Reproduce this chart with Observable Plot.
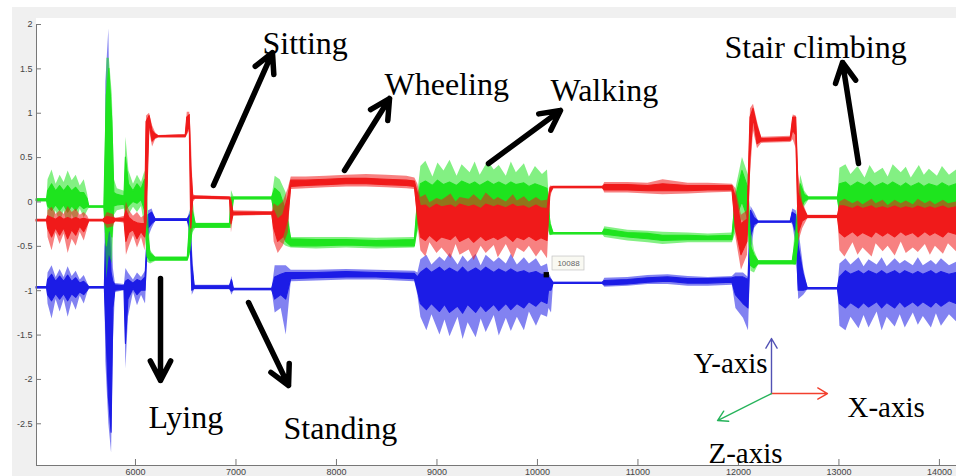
<!DOCTYPE html>
<html>
<head>
<meta charset="utf-8">
<script src="https://cdn.jsdelivr.net/npm/d3@7"></script>
<script src="https://cdn.jsdelivr.net/npm/@observablehq/plot@0.6"></script>
<style>
  body { margin: 0; }
  #wrap { position: relative; width: 956px; height: 476px; background: #fff; overflow: hidden; }
  #fig { position: absolute; left: 12px; top: 7px; right: 0; bottom: 0; background: #f0f0f0; }
  #axes { position: absolute; left: 36px; top: 18px; right: 0; height: 447px; background: #fff; }
  #chart { position: absolute; left: 0; top: 0; }
</style>
</head>
<body>
<div id="wrap"><div id="fig"></div><div id="axes"></div><div id="chart"></div></div>
<script>
// Sample index (x), and for each accelerometer axis: [x, envelopeLow, coreLow, coreHigh, envelopeHigh]
const xTicks = [6000, 7000, 8000, 9000, 10000, 11000, 12000, 13000, 14000];
const yTicks = [-2.5, -2, -1.5, -1, -0.5, 0, 0.5, 1, 1.5, 2];

const redX = [
  [5015, -0.22, -0.22, -0.20, -0.20],
  [5120, -0.22, -0.22, -0.20, -0.20],
  [5130, -0.40, -0.30, -0.16, -0.10],
  [5170, -0.55, -0.40, -0.18, -0.06],
  [5210, -0.35, -0.30, -0.20, -0.14],
  [5250, -0.48, -0.38, -0.17, -0.10],
  [5290, -0.36, -0.30, -0.20, -0.14],
  [5330, -0.58, -0.42, -0.18, -0.05],
  [5370, -0.42, -0.32, -0.20, -0.12],
  [5410, -0.50, -0.38, -0.18, -0.08],
  [5450, -0.34, -0.28, -0.20, -0.15],
  [5490, -0.44, -0.34, -0.19, -0.12],
  [5525, -0.30, -0.26, -0.20, -0.16],
  [5540, -0.22, -0.22, -0.20, -0.20],
  [5680, -0.22, -0.22, -0.20, -0.20],
  [5720, -0.30, -0.25, -0.17, -0.12],
  [5780, -0.28, -0.24, -0.18, -0.14],
  [5800, -0.22, -0.22, -0.19, -0.19],
  [5890, -0.24, -0.22, -0.19, -0.16],
  [5910, -0.60, -0.45, -0.10, 0.00],
  [5940, -0.50, -0.35, -0.18, -0.10],
  [5980, -0.38, -0.32, -0.22, -0.16],
  [6020, -0.52, -0.42, -0.24, -0.12],
  [6060, -0.40, -0.34, -0.25, -0.18],
  [6095, -0.55, -0.40, -0.25, -0.15],
  [6110, -0.30, -0.25, 0.90, 0.97],
  [6140, 0.80, 0.90, 0.97, 1.00],
  [6170, 0.62, 0.68, 0.80, 0.86],
  [6200, 0.70, 0.72, 0.76, 0.78],
  [6230, 0.72, 0.73, 0.74, 0.75],
  [6500, 0.72, 0.73, 0.75, 0.76],
  [6515, 0.75, 0.78, 0.95, 1.01],
  [6540, 0.80, 0.85, 0.98, 1.01],
  [6555, -0.40, -0.30, 0.40, 0.75],
  [6575, 0.00, 0.03, 0.06, 0.08],
  [6600, 0.03, 0.04, 0.06, 0.07],
  [6940, 0.02, 0.03, 0.05, 0.06],
  [6955, -0.35, -0.25, 0.00, 0.05],
  [6975, -0.16, -0.15, -0.12, -0.10],
  [7360, -0.15, -0.14, -0.12, -0.11],
  [7380, -0.45, -0.30, -0.10, -0.02],
  [7420, -0.58, -0.45, -0.20, -0.05],
  [7470, -0.50, -0.40, -0.15, 0.00],
  [7520, -0.35, -0.20, 0.05, 0.15],
  [7550, 0.14, 0.17, 0.24, 0.28],
  [7700, 0.15, 0.18, 0.24, 0.28],
  [7900, 0.16, 0.19, 0.25, 0.29],
  [8100, 0.17, 0.20, 0.26, 0.30],
  [8300, 0.17, 0.20, 0.26, 0.31],
  [8500, 0.16, 0.19, 0.25, 0.30],
  [8700, 0.15, 0.18, 0.24, 0.29],
  [8780, 0.14, 0.17, 0.23, 0.27],
  [8810, -0.25, -0.15, 0.10, 0.20],
  [8840, -0.55, -0.40, -0.05, 0.05],
  [8890, -0.62, -0.44, -0.04, 0.08],
  [8930, -0.46, -0.38, -0.08, -0.01],
  [9000, -0.58, -0.45, -0.03, 0.04],
  [9050, -0.52, -0.40, -0.06, 0.02],
  [9140, -0.64, -0.43, -0.04, 0.09],
  [9190, -0.48, -0.38, -0.07, 0.00],
  [9230, -0.60, -0.45, -0.03, 0.05],
  [9320, -0.54, -0.40, -0.06, 0.03],
  [9370, -0.66, -0.46, -0.04, 0.08],
  [9440, -0.50, -0.39, -0.08, 0.01],
  [9490, -0.58, -0.44, -0.03, 0.10],
  [9570, -0.49, -0.40, -0.06, 0.02],
  [9610, -0.63, -0.43, -0.04, 0.05],
  [9690, -0.48, -0.38, -0.07, 0.00],
  [9760, -0.64, -0.45, -0.03, 0.08],
  [9800, -0.52, -0.40, -0.06, 0.01],
  [9870, -0.57, -0.43, -0.05, 0.06],
  [9920, -0.50, -0.39, -0.08, 0.00],
  [9990, -0.62, -0.44, -0.04, 0.05],
  [10040, -0.54, -0.41, -0.07, 0.01],
  [10100, -0.64, -0.44, -0.08, 0.02],
  [10130, 0.05, 0.10, 0.16, 0.18],
  [10160, 0.15, 0.155, 0.17, 0.175],
  [10650, 0.15, 0.155, 0.17, 0.175],
  [10670, 0.10, 0.13, 0.19, 0.22],
  [10900, 0.10, 0.13, 0.19, 0.22],
  [11100, 0.09, 0.12, 0.18, 0.21],
  [11250, 0.08, 0.12, 0.20, 0.25],
  [11500, 0.09, 0.12, 0.18, 0.21],
  [11700, 0.10, 0.13, 0.18, 0.21],
  [11940, 0.11, 0.13, 0.18, 0.20],
  [11975, -0.40, -0.30, 0.05, 0.15],
  [12030, -0.77, -0.60, -0.25, -0.15],
  [12090, -0.60, -0.45, -0.20, -0.10],
  [12120, 0.30, 0.50, 0.95, 1.05],
  [12150, 0.80, 0.95, 1.05, 1.10],
  [12190, 0.60, 0.65, 0.85, 0.90],
  [12230, 0.66, 0.68, 0.71, 0.73],
  [12520, 0.67, 0.69, 0.72, 0.74],
  [12545, 0.70, 0.80, 0.95, 0.98],
  [12575, 0.60, 0.75, 0.95, 0.97],
  [12600, -0.45, -0.35, 0.10, 0.30],
  [12640, -0.30, -0.22, -0.05, 0.00],
  [12690, -0.19, -0.18, -0.16, -0.15],
  [12990, -0.19, -0.18, -0.16, -0.15],
  [13010, -0.55, -0.35, -0.05, 0.00],
  [13060, -0.62, -0.40, -0.05, 0.03],
  [13140, -0.46, -0.34, -0.08, -0.02],
  [13190, -0.60, -0.39, -0.05, 0.01],
  [13240, -0.52, -0.35, -0.08, -0.03],
  [13330, -0.62, -0.40, -0.05, 0.03],
  [13370, -0.47, -0.34, -0.08, -0.02],
  [13440, -0.56, -0.39, -0.06, 0.02],
  [13490, -0.50, -0.35, -0.08, -0.04],
  [13560, -0.61, -0.40, -0.05, 0.02],
  [13620, -0.45, -0.34, -0.08, -0.02],
  [13670, -0.58, -0.38, -0.06, 0.01],
  [13740, -0.52, -0.35, -0.08, -0.03],
  [13790, -0.57, -0.40, -0.05, 0.03],
  [13860, -0.48, -0.34, -0.08, -0.02],
  [13910, -0.60, -0.38, -0.06, 0.01],
  [13960, -0.50, -0.35, -0.08, -0.03],
  [14040, -0.59, -0.40, -0.05, 0.02],
  [14090, -0.47, -0.34, -0.08, -0.02],
  [14170, -0.56, -0.37, -0.06, 0.00]
];

const greenZ = [
  [5015, 0.00, 0.01, 0.03, 0.04],
  [5120, 0.00, 0.01, 0.03, 0.04],
  [5130, -0.15, -0.05, 0.12, 0.25],
  [5170, -0.30, -0.10, 0.20, 0.36],
  [5210, -0.10, -0.04, 0.12, 0.20],
  [5250, -0.24, -0.10, 0.18, 0.30],
  [5290, -0.10, -0.04, 0.12, 0.22],
  [5330, -0.32, -0.12, 0.18, 0.35],
  [5370, -0.14, -0.05, 0.12, 0.24],
  [5410, -0.25, -0.10, 0.16, 0.30],
  [5450, -0.08, -0.04, 0.10, 0.18],
  [5490, -0.18, -0.08, 0.10, 0.25],
  [5525, -0.10, -0.06, 0.03, 0.08],
  [5540, -0.07, -0.065, -0.05, -0.045],
  [5690, -0.07, -0.065, -0.05, -0.045],
  [5715, -0.87, -0.50, 1.20, 1.62],
  [5740, -0.60, -0.30, 1.50, 1.62],
  [5770, -0.70, -0.40, 0.90, 1.20],
  [5790, -0.15, -0.05, 0.10, 0.25],
  [5820, -0.10, -0.04, 0.08, 0.15],
  [5890, -0.08, -0.03, 0.06, 0.12],
  [5905, -0.30, -0.10, 0.50, 0.73],
  [5935, -0.15, -0.05, 0.20, 0.35],
  [5980, -0.06, 0.00, 0.12, 0.20],
  [6020, -0.12, -0.02, 0.20, 0.30],
  [6060, -0.05, 0.02, 0.14, 0.22],
  [6095, -0.30, -0.10, 0.25, 0.35],
  [6120, -0.68, -0.62, -0.30, 0.10],
  [6150, -0.70, -0.67, -0.58, -0.55],
  [6200, -0.67, -0.66, -0.63, -0.62],
  [6520, -0.67, -0.66, -0.63, -0.62],
  [6545, -0.60, -0.55, -0.20, -0.10],
  [6570, -0.35, -0.30, -0.10, 0.05],
  [6600, -0.30, -0.29, -0.25, -0.24],
  [6940, -0.30, -0.29, -0.25, -0.24],
  [6955, -0.30, -0.20, 0.05, 0.13],
  [6980, 0.02, 0.03, 0.05, 0.06],
  [7360, 0.02, 0.03, 0.05, 0.06],
  [7390, -0.30, -0.15, 0.15, 0.29],
  [7440, -0.45, -0.30, 0.10, 0.25],
  [7500, -0.50, -0.45, -0.10, 0.10],
  [7550, -0.52, -0.50, -0.42, -0.40],
  [7800, -0.53, -0.50, -0.43, -0.40],
  [8100, -0.52, -0.49, -0.43, -0.40],
  [8400, -0.53, -0.50, -0.44, -0.41],
  [8780, -0.52, -0.50, -0.43, -0.40],
  [8810, -0.35, -0.25, 0.00, 0.10],
  [8840, -0.25, -0.10, 0.20, 0.40],
  [8890, -0.30, -0.15, 0.23, 0.46],
  [8960, -0.18, -0.12, 0.18, 0.28],
  [9010, -0.26, -0.16, 0.24, 0.44],
  [9070, -0.20, -0.12, 0.19, 0.35],
  [9130, -0.32, -0.15, 0.22, 0.47],
  [9200, -0.17, -0.11, 0.18, 0.29],
  [9250, -0.28, -0.16, 0.23, 0.42],
  [9330, -0.22, -0.12, 0.19, 0.33],
  [9380, -0.30, -0.16, 0.22, 0.45],
  [9430, -0.18, -0.11, 0.18, 0.30],
  [9510, -0.27, -0.15, 0.23, 0.46],
  [9570, -0.20, -0.12, 0.19, 0.36],
  [9620, -0.31, -0.16, 0.22, 0.41],
  [9690, -0.18, -0.11, 0.18, 0.29],
  [9740, -0.25, -0.15, 0.22, 0.45],
  [9790, -0.20, -0.12, 0.19, 0.33],
  [9870, -0.29, -0.15, 0.21, 0.43],
  [9920, -0.18, -0.11, 0.17, 0.28],
  [9980, -0.27, -0.14, 0.20, 0.40],
  [10050, -0.22, -0.12, 0.17, 0.31],
  [10100, -0.30, -0.15, 0.15, 0.36],
  [10130, -0.38, -0.37, -0.25, -0.20],
  [10160, -0.37, -0.365, -0.35, -0.345],
  [10650, -0.37, -0.365, -0.35, -0.345],
  [10670, -0.40, -0.37, -0.31, -0.28],
  [10900, -0.44, -0.40, -0.35, -0.32],
  [11100, -0.46, -0.42, -0.36, -0.33],
  [11250, -0.48, -0.44, -0.38, -0.34],
  [11500, -0.46, -0.43, -0.38, -0.35],
  [11700, -0.46, -0.43, -0.39, -0.36],
  [11940, -0.46, -0.43, -0.38, -0.35],
  [11975, -0.35, -0.20, 0.05, 0.15],
  [12040, -0.20, 0.00, 0.35, 0.50],
  [12100, -0.40, -0.20, 0.15, 0.30],
  [12125, -0.78, -0.72, -0.50, -0.30],
  [12160, -0.80, -0.75, -0.60, -0.55],
  [12200, -0.71, -0.70, -0.67, -0.66],
  [12540, -0.71, -0.70, -0.67, -0.66],
  [12575, -0.72, -0.70, -0.40, -0.20],
  [12620, -0.30, -0.10, 0.20, 0.30],
  [12660, -0.05, 0.00, 0.08, 0.12],
  [12700, 0.02, 0.03, 0.05, 0.06],
  [12990, 0.02, 0.03, 0.05, 0.06],
  [13010, -0.25, -0.10, 0.20, 0.38],
  [13070, -0.30, -0.14, 0.22, 0.42],
  [13120, -0.18, -0.10, 0.17, 0.31],
  [13190, -0.27, -0.13, 0.22, 0.40],
  [13260, -0.20, -0.10, 0.18, 0.27],
  [13310, -0.30, -0.14, 0.22, 0.41],
  [13360, -0.16, -0.10, 0.17, 0.32],
  [13440, -0.28, -0.13, 0.21, 0.38],
  [13490, -0.20, -0.10, 0.18, 0.28],
  [13540, -0.29, -0.14, 0.22, 0.42],
  [13620, -0.18, -0.10, 0.17, 0.33],
  [13670, -0.26, -0.13, 0.21, 0.39],
  [13720, -0.18, -0.10, 0.17, 0.27],
  [13800, -0.30, -0.14, 0.21, 0.41],
  [13850, -0.19, -0.10, 0.17, 0.30],
  [13900, -0.28, -0.13, 0.20, 0.37],
  [13980, -0.17, -0.10, 0.17, 0.29],
  [14030, -0.29, -0.13, 0.21, 0.40],
  [14100, -0.20, -0.10, 0.17, 0.30],
  [14170, -0.26, -0.12, 0.20, 0.36]
];

const blueY = [
  [5015, -0.98, -0.975, -0.96, -0.955],
  [5120, -0.98, -0.975, -0.96, -0.955],
  [5130, -1.15, -1.05, -0.88, -0.80],
  [5170, -1.32, -1.12, -0.82, -0.72],
  [5210, -1.10, -1.04, -0.90, -0.85],
  [5250, -1.24, -1.10, -0.84, -0.76],
  [5290, -1.10, -1.04, -0.90, -0.85],
  [5330, -1.30, -1.12, -0.83, -0.73],
  [5370, -1.12, -1.04, -0.90, -0.84],
  [5410, -1.22, -1.08, -0.86, -0.78],
  [5450, -1.06, -1.02, -0.92, -0.88],
  [5490, -1.15, -1.05, -0.90, -0.83],
  [5525, -1.02, -1.00, -0.94, -0.92],
  [5540, -0.98, -0.975, -0.96, -0.955],
  [5695, -0.98, -0.975, -0.96, -0.955],
  [5705, -1.80, -1.30, -0.50, 1.35],
  [5735, -2.50, -2.20, 0.00, 1.95],
  [5762, -2.83, -2.60, -0.80, -0.20],
  [5780, -1.60, -1.20, -0.90, -0.75],
  [5800, -1.02, -1.00, -0.94, -0.92],
  [5890, -1.00, -0.99, -0.95, -0.93],
  [5905, -1.88, -1.60, -0.90, -0.75],
  [5930, -1.30, -1.10, -0.88, -0.80],
  [5980, -1.02, -0.98, -0.92, -0.88],
  [6020, -1.17, -1.05, -0.88, -0.80],
  [6060, -1.05, -1.00, -0.90, -0.85],
  [6100, -1.15, -1.00, -0.85, -0.78],
  [6130, -0.40, -0.30, -0.15, -0.10],
  [6165, -0.30, -0.25, -0.12, -0.08],
  [6200, -0.22, -0.215, -0.195, -0.19],
  [6520, -0.22, -0.215, -0.195, -0.19],
  [6545, -0.45, -0.30, -0.15, -0.10],
  [6565, -1.05, -1.00, -0.70, -0.50],
  [6590, -0.99, -0.98, -0.95, -0.94],
  [6940, -0.99, -0.98, -0.95, -0.94],
  [6960, -1.05, -1.01, -0.88, -0.84],
  [6980, -1.00, -0.995, -0.98, -0.975],
  [7360, -1.00, -0.995, -0.98, -0.975],
  [7390, -1.25, -1.10, -0.85, -0.72],
  [7450, -1.20, -1.05, -0.82, -0.72],
  [7500, -1.50, -1.10, -0.80, -0.72],
  [7550, -0.90, -0.87, -0.80, -0.77],
  [7800, -0.89, -0.86, -0.80, -0.77],
  [8100, -0.88, -0.85, -0.79, -0.76],
  [8400, -0.88, -0.85, -0.80, -0.77],
  [8780, -0.90, -0.87, -0.81, -0.78],
  [8810, -1.05, -1.00, -0.85, -0.80],
  [8840, -1.30, -1.15, -0.80, -0.65],
  [8900, -1.45, -1.22, -0.75, -0.60],
  [8950, -1.27, -1.15, -0.80, -0.71],
  [9030, -1.50, -1.24, -0.74, -0.62],
  [9080, -1.33, -1.16, -0.79, -0.67],
  [9130, -1.52, -1.25, -0.75, -0.58],
  [9210, -1.30, -1.18, -0.80, -0.71],
  [9260, -1.55, -1.26, -0.74, -0.61],
  [9310, -1.36, -1.16, -0.80, -0.68],
  [9390, -1.53, -1.25, -0.75, -0.59],
  [9440, -1.32, -1.17, -0.79, -0.72],
  [9490, -1.47, -1.24, -0.74, -0.60],
  [9570, -1.28, -1.16, -0.80, -0.68],
  [9620, -1.51, -1.23, -0.76, -0.63],
  [9690, -1.31, -1.15, -0.80, -0.70],
  [9740, -1.46, -1.22, -0.76, -0.59],
  [9800, -1.30, -1.15, -0.80, -0.71],
  [9870, -1.45, -1.20, -0.78, -0.63],
  [9920, -1.24, -1.13, -0.81, -0.70],
  [9990, -1.40, -1.18, -0.79, -0.64],
  [10040, -1.27, -1.12, -0.82, -0.73],
  [10100, -1.30, -1.15, -0.82, -0.70],
  [10115, -1.20, -1.00, -0.85, -0.80],
  [10140, -1.25, -1.00, -0.88, -0.86],
  [10160, -0.93, -0.925, -0.91, -0.905],
  [10650, -0.93, -0.925, -0.91, -0.905],
  [10670, -0.96, -0.94, -0.89, -0.86],
  [10900, -0.95, -0.93, -0.88, -0.85],
  [11100, -0.93, -0.91, -0.86, -0.83],
  [11300, -0.93, -0.90, -0.85, -0.82],
  [11500, -0.95, -0.92, -0.87, -0.84],
  [11700, -0.95, -0.92, -0.87, -0.85],
  [11940, -0.94, -0.91, -0.86, -0.84],
  [11975, -1.20, -1.05, -0.85, -0.80],
  [12050, -1.31, -1.15, -0.85, -0.80],
  [12100, -1.45, -1.20, -0.88, -0.85],
  [12125, -0.60, -0.40, -0.10, -0.05],
  [12160, -0.30, -0.26, -0.18, -0.12],
  [12200, -0.24, -0.235, -0.22, -0.215],
  [12520, -0.24, -0.235, -0.22, -0.215],
  [12540, -0.25, -0.22, -0.12, -0.08],
  [12575, -0.50, -0.35, -0.15, -0.10],
  [12600, -1.10, -1.00, -0.50, -0.30],
  [12650, -1.05, -1.00, -0.82, -0.75],
  [12690, -0.99, -0.985, -0.97, -0.965],
  [12990, -0.99, -0.985, -0.97, -0.965],
  [13010, -1.40, -1.15, -0.85, -0.70],
  [13070, -1.45, -1.20, -0.78, -0.64],
  [13120, -1.30, -1.14, -0.82, -0.71],
  [13200, -1.43, -1.20, -0.78, -0.63],
  [13250, -1.28, -1.14, -0.82, -0.73],
  [13300, -1.42, -1.19, -0.78, -0.65],
  [13380, -1.24, -1.13, -0.82, -0.71],
  [13430, -1.45, -1.20, -0.78, -0.63],
  [13480, -1.30, -1.14, -0.82, -0.73],
  [13560, -1.41, -1.20, -0.78, -0.64],
  [13610, -1.27, -1.13, -0.82, -0.70],
  [13660, -1.42, -1.19, -0.78, -0.66],
  [13740, -1.25, -1.13, -0.82, -0.72],
  [13790, -1.39, -1.18, -0.79, -0.63],
  [13840, -1.29, -1.13, -0.82, -0.72],
  [13920, -1.42, -1.19, -0.78, -0.66],
  [13970, -1.26, -1.13, -0.82, -0.71],
  [14020, -1.40, -1.18, -0.79, -0.64],
  [14100, -1.27, -1.12, -0.82, -0.72],
  [14170, -1.35, -1.15, -0.80, -0.68]
];

const seriesColors = ["#1c1ce6", "#1ee41e", "#f01a1a"]; // Y (blue), Z (green), X (red)
const seriesData = [blueY, greenZ, redX];

// Annotations (data coordinates)
const activityLabels = [
  {text: "Sitting", x: 7264, y: 1.673},
  {text: "Wheeling", x: 8478, y: 1.211},
  {text: "Walking", x: 10130, y: 1.143},
  {text: "Stair climbing", x: 11861, y: 1.617},
  {text: "Lying", x: 6130, y: -2.553},
  {text: "Standing", x: 7473, y: -2.666}
];
const activityArrows = [
  {x1: 6776, y1: 0.186, x2: 7363, y2: 1.684},
  {x1: 8080, y1: 0.355, x2: 8528, y2: 1.166},
  {x1: 9513, y1: 0.433, x2: 10229, y2: 1.031},
  {x1: 13195, y1: 0.433, x2: 13036, y2: 1.572},
  {x1: 6249, y1: -0.863, x2: 6249, y2: -2.012},
  {x1: 7125, y1: -1.133, x2: 7523, y2: -2.069}
];
const axisOrigin = {x: 12329, y: -2.159};
const axisGlyph = [
  {name: "Y-axis", x2: 12329, y2: -1.539, color: "#5252b4", lx: 11553, ly: -1.933},
  {name: "X-axis", x2: 12886, y2: -2.159, color: "#f2402e", lx: 13085, ly: -2.429},
  {name: "Z-axis", x2: 11792, y2: -2.463, color: "#25b35a", lx: 11702, ly: -2.94}
];
const cursor = {x: 10088, y: -0.82, label: "10088", bx1: 10150, bx2: 10468, by1: -0.772, by2: -0.615};

const marks = [];
seriesData.forEach((s, i) => {
  const c = seriesColors[i];
  marks.push(Plot.area(s, {x1: d => d[0], y1: d => d[1], y2: d => d[4], fill: c, fillOpacity: 0.55}));
  marks.push(Plot.area(s, {x1: d => d[0], y1: d => d[2], y2: d => d[3], fill: c, stroke: c, strokeWidth: 1.1}));
});

const chart = Plot.plot({
  width: 956,
  height: 476,
  marginLeft: 36,
  marginRight: 0,
  marginTop: 24,
  marginBottom: 11,
  style: {background: "transparent", fontFamily: "Liberation Sans", overflow: "visible"},
  x: {domain: [5015, 14170]},
  y: {domain: [-2.97, 2]},
  marks: [
    ...marks,
    Plot.ruleX([5015], {stroke: "#777"}),
    Plot.ruleY([-2.97], {stroke: "#777"}),
    Plot.ruleX(xTicks, {x: d => d, stroke: "#777", insetTop: 435}),
    Plot.ruleY(yTicks, {y: d => d, stroke: "#777", insetRight: 915}),
    Plot.axisX(xTicks, {tickSize: 0, tickPadding: 3, fontSize: 9, fill: "#444", label: null, tickFormat: d => String(d)}),
    Plot.axisY(yTicks, {tickSize: 0, tickPadding: 4, fontSize: 9, fill: "#444", label: null, tickFormat: d => String(d)}),
    // data cursor
    Plot.rect([cursor], {x1: "bx1", x2: "bx2", y1: "by1", y2: "by2", fill: "#f9f9f2", stroke: "#c8c8c8", strokeWidth: 0.8}),
    Plot.text([cursor], {x: d => (d.bx1 + d.bx2) / 2, y: d => (d.by1 + d.by2) / 2, text: "label", fontSize: 8, fill: "#666", fontFamily: "Liberation Sans"}),
    Plot.dot([cursor], {x: "x", y: "y", symbol: "square", r: 3, fill: "black"}),
    // activity arrows and labels
    Plot.arrow(activityArrows, {x1: "x1", y1: "y1", x2: "x2", y2: "y2", stroke: "black", strokeWidth: 5.5, headLength: 6, headAngle: 55}),
    Plot.text(activityLabels, {x: "x", y: "y", text: "text", textAnchor: "start", lineAnchor: "bottom", fontSize: 32, fontFamily: "Liberation Serif", fill: "black"}),
    // axes glyph
    Plot.arrow(axisGlyph, {x1: () => axisOrigin.x, y1: () => axisOrigin.y, x2: "x2", y2: "y2", stroke: "color", strokeWidth: 1.4, headLength: 12, headAngle: 60}),
    Plot.text(axisGlyph, {x: "lx", y: "ly", text: "name", textAnchor: "start", lineAnchor: "bottom", fontSize: 29, fontFamily: "Liberation Serif", fill: "black"})
  ]
});
document.getElementById("chart").appendChild(chart);
</script>
</body>
</html>
